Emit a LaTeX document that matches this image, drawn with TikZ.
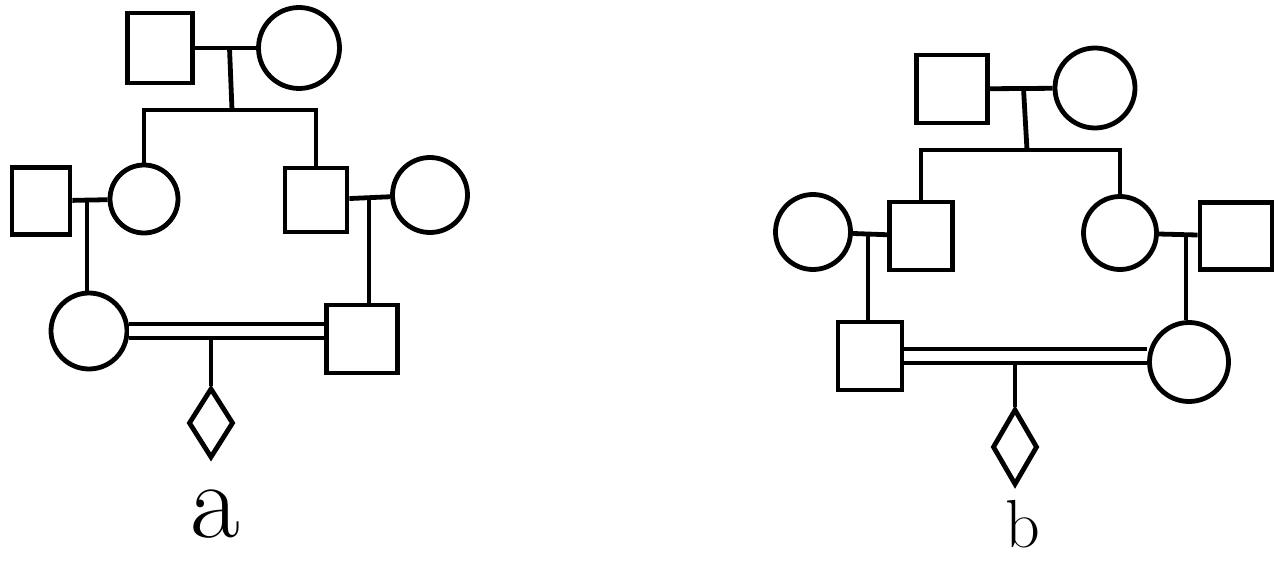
\documentclass[tikz,border=0pt]{standalone}
\usetikzlibrary{shapes.geometric,calc}
\begin{document}
\begin{tikzpicture}[x=0.5pt,y=-0.5pt,line width=2.4pt,
  male/.style={draw,rectangle,inner sep=0pt,minimum width=33pt,minimum height=34pt},
  female/.style={draw,circle,inner sep=0pt,minimum size=37pt},
  unknown/.style={draw,diamond,inner sep=0pt,minimum width=23pt,minimum height=36pt},
  consang/.style={double,double distance=5pt,line width=2pt},
  lbl/.style={inner sep=0pt}]
\useasboundingbox (0,0) rectangle (1283,561);
% ---------------- pedigree a ----------------
\node[male,minimum width=32.5pt,minimum height=35pt] (A1) at (160,48) {};
\node[female,minimum size=40.5pt] (A2) at (299,48) {};
\node[male,minimum width=29pt,minimum height=33.5pt] (B1) at (41,201) {};
\node[female,minimum size=34pt] (B2) at (144,199) {};
\node[male,minimum width=31pt,minimum height=32pt] (B3) at (316,200) {};
\node[female,minimum size=37.5pt] (B4) at (430,195) {};
\node[female,minimum size=38pt] (C1) at (89,331) {};
\node[male,minimum width=35.5pt,minimum height=34pt] (C2) at (362,339) {};
\node[unknown,minimum width=22.5pt,minimum height=35pt] (D1) at (211,423) {};
\node[lbl,font=\fontsize{54}{58}\selectfont] (La) at (215,514) {a};
\coordinate (ma) at ($(A1)!0.5!(A2)$);
\coordinate (sa) at (232,110);
\coordinate (mb) at (87,200);
\coordinate (mc) at (369,198);
\coordinate (da) at (211,338);
\draw (A1) -- (A2);
\draw (ma) -- (sa);
\draw (B2) |- (sa) -| (B3);
\draw (B1) -- (B2);
\draw (B3) -- (B4);
\draw (mb) -- (mb |- C1.north);
\draw (mc) -- (mc |- C2.north);
\draw[consang] (C1.east) -- (C1.east -| C2.west);
\draw (da) -- (D1);
% ---------------- pedigree b ----------------
\node[male,minimum width=35.5pt,minimum height=34pt] (E1) at (952,89) {};
\node[female,minimum size=40pt] (E2) at (1095,88) {};
\node[female,minimum size=37.5pt] (F1) at (813,232) {};
\node[male,minimum width=31.5pt,minimum height=34pt] (F2) at (921,236) {};
\node[female,minimum size=36.5pt] (F3) at (1120,233) {};
\node[male,minimum width=36pt,minimum height=33.5pt] (F4) at (1236,236) {};
\node[male,minimum width=32pt,minimum height=34pt] (G1) at (870,356) {};
\node[female,minimum size=39.5pt] (G2) at (1189,362) {};
\node[unknown,minimum width=22.5pt,minimum height=38pt] (D2) at (1015,447) {};
\node[lbl,font=\fontsize{34}{38}\selectfont] (Lb) at (1023,524) {b};
\coordinate (me) at ($(E1)!0.5!(E2)$);
\coordinate (sb) at (1027,150);
\coordinate (mf) at (868,234);
\coordinate (mg) at (1186,235);
\coordinate (db) at (1015,362);
\draw (E1) -- (E2);
\draw (me) -- (sb);
\draw (F2) |- (sb) -| (F3);
\draw (F1) -- (F2);
\draw (F3) -- (F4);
\draw (mf) -- (mf |- G1.north);
\draw (mg) -- (mg |- G2.north);
\draw[consang] (G1.east) -- (G1.east -| G2.west);
\draw (db) -- (D2);
\end{tikzpicture}
\end{document}
